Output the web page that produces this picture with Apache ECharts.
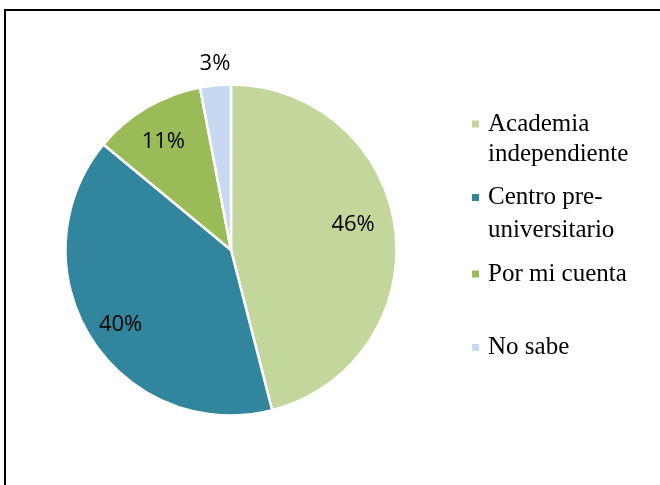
<!DOCTYPE html>
<html>
<head>
<meta charset="utf-8">
<script src="https://cdn.jsdelivr.net/npm/echarts@6/dist/echarts.min.js"></script>
<style>
  html, body { margin: 0; padding: 0; background: #ffffff; }
  #chart { width: 660px; height: 485px; }
</style>
</head>
<body>
<div id="chart"></div>
<script>
// Categories, shown in the legend with the line breaks used there
const categories = ['Academia independiente', 'Centro pre-universitario', 'Por mi cuenta', 'No sabe'];
const legendText = ['Academia\nindependiente', 'Centro pre-\nuniversitario', 'Por mi cuenta', 'No sabe'];
// Percentage share of each answer
const shares = [46, 40, 11, 3];
const colors = ['#c3d69b', '#31859c', '#9bbb59', '#c6d9f1'];

// Per-slice nudges of the percentage labels away from the default inner spot
const labelShift = [[37, -15], [-38, 29], [-24, -34], [-8, -101]];
// Vertical centre of the first legend line of each entry, and its line spacing
const legendRowY = [124, 197.5, 274, 347.5];
const legendLine = [30, 33, 31, 31];

const chart = echarts.init(document.getElementById('chart'), null, { renderer: 'canvas' });

// One legend per entry; two-line entries get a blank leading line so the
// marker sits beside the first line of text
const legends = categories.map((name, i) => {
  const lines = legendText[i].split('\n').length;
  const text = lines > 1 ? ' \n' + legendText[i] : legendText[i];
  const rows = lines > 1 ? 3 : 1;
  return {
    orient: 'vertical',
    left: 470,
    top: legendRowY[i] - rows * legendLine[i] / 2,
    padding: 0,
    itemWidth: 9,
    itemHeight: 9,
    icon: 'rect',
    selectedMode: false,
    data: [name],
    formatter: () => text,
    textStyle: {
      fontFamily: 'Times New Roman',
      fontSize: 25,
      color: '#000000',
      lineHeight: legendLine[i],
      padding: [0, 0, 0, 3]
    }
  };
});

chart.setOption({
  animation: false,
  backgroundColor: '#ffffff',
  color: colors,
  legend: legends,
  graphic: [{
    type: 'rect',
    shape: { x: 5, y: 10, width: 700, height: 520 },
    style: { fill: 'none', stroke: '#000000', lineWidth: 2 },
    silent: true
  }],
  series: [{
    type: 'pie',
    center: [231, 250],
    radius: [0, 165.5],
    startAngle: 90,
    clockwise: true,
    avoidLabelOverlap: false,
    data: categories.map((name, i) => ({ name: name, value: shares[i] })),
    itemStyle: { borderColor: '#ffffff', borderWidth: 2.5 },
    label: {
      show: true,
      position: 'inside',
      formatter: '{c}%',
      fontFamily: 'Open Sans',
      fontSize: 22,
      color: '#000000'
    },
    labelLine: { show: false },
    labelLayout: (params) => ({ dx: labelShift[params.dataIndex][0], dy: labelShift[params.dataIndex][1] }),
    emphasis: { disabled: true }
  }]
});
</script>
</body>
</html>
